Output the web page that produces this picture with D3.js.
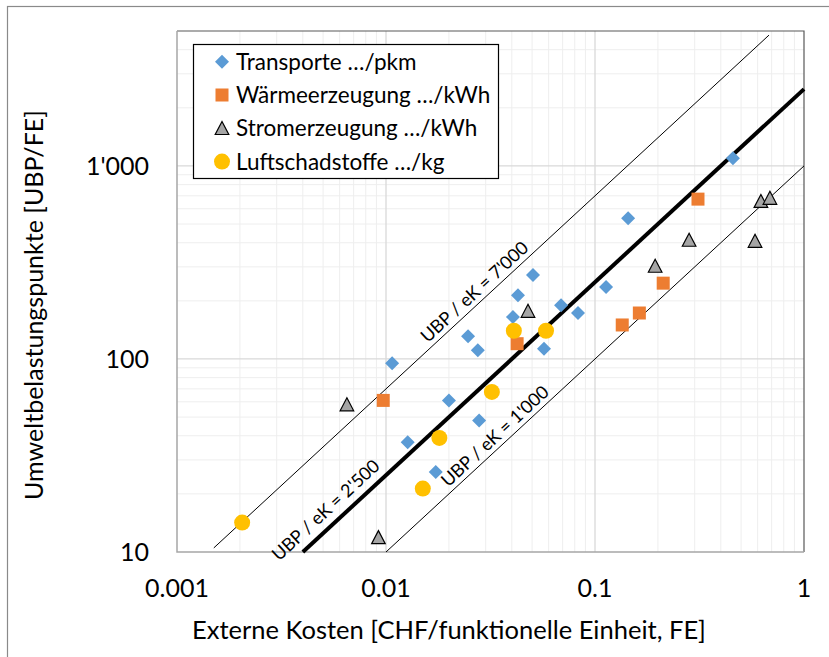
<!DOCTYPE html>
<html lang="de">
<head>
<meta charset="UTF-8">
<title>UBP vs externe Kosten</title>
<script src="https://cdn.jsdelivr.net/npm/d3@7"></script>
<style>
  body { margin: 0; background: #fff; }
  svg { display: block; font-family: Lato, "Open Sans", sans-serif; }
  .grid-major { stroke: #d9d9d9; stroke-width: 1.3px; }
  .grid-minor { stroke: #eeeeee; stroke-width: 1px; }
</style>
</head>
<body>
<script>
// Transporte .../pkm
const transportX = [0.0107, 0.0127, 0.0173, 0.020, 0.0247, 0.0275, 0.0279, 0.0405, 0.0428, 0.0505, 0.057, 0.0688, 0.0829, 0.113, 0.144, 0.457];
const transportY = [95, 37, 26, 61, 131, 111, 48, 165, 214, 272, 113, 190, 173, 236, 536, 1097];
// Wärmeerzeugung .../kWh
const waermeX = [0.0097, 0.0424, 0.135, 0.163, 0.212, 0.311];
const waermeY = [61, 120, 150, 173, 247, 673];
// Stromerzeugung .../kWh
const stromX = [0.0065, 0.0092, 0.0478, 0.194, 0.282, 0.583, 0.622, 0.687];
const stromY = [58, 11.9, 177, 303, 413, 408, 656, 681];
// Luftschadstoffe .../kg
const luftX = [0.00205, 0.015, 0.018, 0.0321, 0.0409, 0.0583];
const luftY = [14.2, 21.3, 39, 67.5, 140, 140];

const seriesNames = ["Transporte …/pkm", "Wärmeerzeugung …/kWh", "Stromerzeugung …/kWh", "Luftschadstoffe …/kg"];

// Verhältnislinien UBP / eK
const ratios = [7000, 2500, 1000];
const ratioLabels = ["UBP / eK = 7'000", "UBP / eK = 2'500", "UBP / eK = 1'000"];
const ratioXFrom = [0.0015, 0.004, 0.01];
const ratioXTo = [0.68, 1, 1];

const xTicks = [0.001, 0.01, 0.1, 1];
const xTickLabels = ["0.001", "0.01", "0.1", "1"];
const yTicks = [10, 100, 1000];
const yTickLabels = ["10", "100", "1'000"];

const W = 829, H = 657;
const svg = d3.select("body").append("svg").attr("width", W).attr("height", H);

// Diagrammrahmen
svg.append("rect").attr("x", 7.5).attr("y", 6.5).attr("width", 1000).attr("height", 1000)
    .attr("fill", "#fff").attr("stroke", "#8a8a8a").attr("stroke-width", 1.2);

const x = d3.scaleLog().domain([0.001, 1]).range([177, 804]);
const y = d3.scaleLog().domain([10, 5000]).range([552, 31]);

// Gitterlinien
const minorX = [], minorY = [];
[0.001, 0.01, 0.1].forEach(d => { for (let k = 2; k <= 9; k++) minorX.push(d * k); });
[10, 100, 1000].forEach(d => { for (let k = 2; k <= 9; k++) if (d * k < 5000) minorY.push(d * k); });

const grid = svg.append("g");
grid.selectAll(".gx").data(minorX).enter().append("line").attr("class", "grid-minor")
    .attr("x1", d => x(d)).attr("x2", d => x(d)).attr("y1", y(10)).attr("y2", y(5000));
grid.selectAll(".gy").data(minorY).enter().append("line").attr("class", "grid-minor")
    .attr("y1", d => y(d)).attr("y2", d => y(d)).attr("x1", x(0.001)).attr("x2", x(1));
grid.selectAll(".gX").data(xTicks.slice(1, -1)).enter().append("line").attr("class", "grid-major")
    .attr("x1", d => x(d)).attr("x2", d => x(d)).attr("y1", y(10)).attr("y2", y(5000));
grid.selectAll(".gY").data(yTicks.slice(1)).enter().append("line").attr("class", "grid-major")
    .attr("y1", d => y(d)).attr("y2", d => y(d)).attr("x1", x(0.001)).attr("x2", x(1));

// Plotrahmen: oben/rechts dunkel, Achsen grau
svg.append("path").attr("fill", "none").attr("stroke", "#595959").attr("stroke-width", 1.2)
    .attr("d", `M${x(0.001)},${y(5000)}H${x(1)}V${y(10)}`);
svg.append("path").attr("fill", "none").attr("stroke", "#a6a6a6").attr("stroke-width", 1.5)
    .attr("d", `M${x(0.001)},${y(5000)}V${y(10)}H${x(1)}`);

// Achsenbeschriftung
svg.append("g").selectAll("text").data(xTicks).enter().append("text")
    .attr("x", d => x(d)).attr("y", 597).attr("text-anchor", "middle")
    .attr("font-size", 25).attr("fill", "#000")
    .text((d, i) => xTickLabels[i]);
svg.append("g").selectAll("text").data(yTicks).enter().append("text")
    .attr("x", 149).attr("y", d => y(d)).attr("dy", "0.36em").attr("text-anchor", "end")
    .attr("font-size", 25).attr("fill", "#000")
    .text((d, i) => yTickLabels[i]);

svg.append("text").attr("x", 449).attr("y", 639).attr("text-anchor", "middle")
    .attr("font-size", 25.5).attr("fill", "#000")
    .text("Externe Kosten [CHF/funktionelle Einheit, FE]");
svg.append("text").attr("transform", "translate(43,305) rotate(-90)").attr("text-anchor", "middle")
    .attr("font-size", 25).attr("fill", "#000")
    .text("Umweltbelastungspunkte [UBP/FE]");

// Verhältnislinien
const lineWidths = [1, 4, 1];
const labelAt = [0.0288, 0.00577, 0.0361];
const labelOffset = [5, 9, 5];
const refG = svg.append("g");
ratios.forEach((r, i) => {
    refG.append("line")
        .attr("x1", x(ratioXFrom[i])).attr("y1", y(r * ratioXFrom[i]))
        .attr("x2", x(ratioXTo[i])).attr("y2", y(r * ratioXTo[i]))
        .attr("stroke", "#000").attr("stroke-width", lineWidths[i]);
    const ang = Math.atan2(y(r * 10) - y(r), x(10) - x(1)) * 180 / Math.PI;
    const px = x(labelAt[i]), py = y(r * labelAt[i]);
    refG.append("text")
        .attr("transform", `translate(${px},${py}) rotate(${ang})`)
        .attr("y", -labelOffset[i]).attr("text-anchor", "middle")
        .attr("font-size", 18).attr("fill", "#000")
        .text(ratioLabels[i]);
});

// Markierungen
const markerColors = ["#5b9bd5", "#ed7d31", "#a5a5a5", "#ffc000"];
function drawMarker(g, type) {
    if (type === 0) g.append("path").attr("d", "M0,-7L7,0L0,7L-7,0Z").attr("fill", markerColors[0]);
    if (type === 1) g.append("rect").attr("x", -6.5).attr("y", -6.5).attr("width", 13).attr("height", 13).attr("fill", markerColors[1]);
    if (type === 2) g.append("path").attr("d", "M0,-6.8L6.8,6.2L-6.8,6.2Z").attr("fill", markerColors[2])
        .attr("stroke", "#000").attr("stroke-width", 1.2).attr("stroke-linejoin", "miter");
    if (type === 3) g.append("circle").attr("r", 8).attr("fill", markerColors[3]);
}

const series = [
    d3.zip(transportX, transportY),
    d3.zip(waermeX, waermeY),
    d3.zip(stromX, stromY),
    d3.zip(luftX, luftY)
];
series.forEach((pts, s) => {
    svg.append("g").selectAll("g").data(pts).enter().append("g")
        .attr("transform", d => `translate(${x(d[0])},${y(d[1])})`)
        .each(function () { drawMarker(d3.select(this), s); });
});

// Legende
const leg = svg.append("g");
leg.append("rect").attr("x", 193.5).attr("y", 44.5).attr("width", 305).attr("height", 134)
    .attr("fill", "#fff").attr("stroke", "#000").attr("stroke-width", 1.2);
seriesNames.forEach((name, i) => {
    const cy = 61.7 + i * 33.3;
    const g = leg.append("g").attr("transform", `translate(222,${cy})`);
    drawMarker(g, i);
    leg.append("text").attr("x", 236).attr("y", cy).attr("dy", "0.36em")
        .attr("font-size", 22.5).attr("fill", "#000").text(name);
});
</script>
</body>
</html>
